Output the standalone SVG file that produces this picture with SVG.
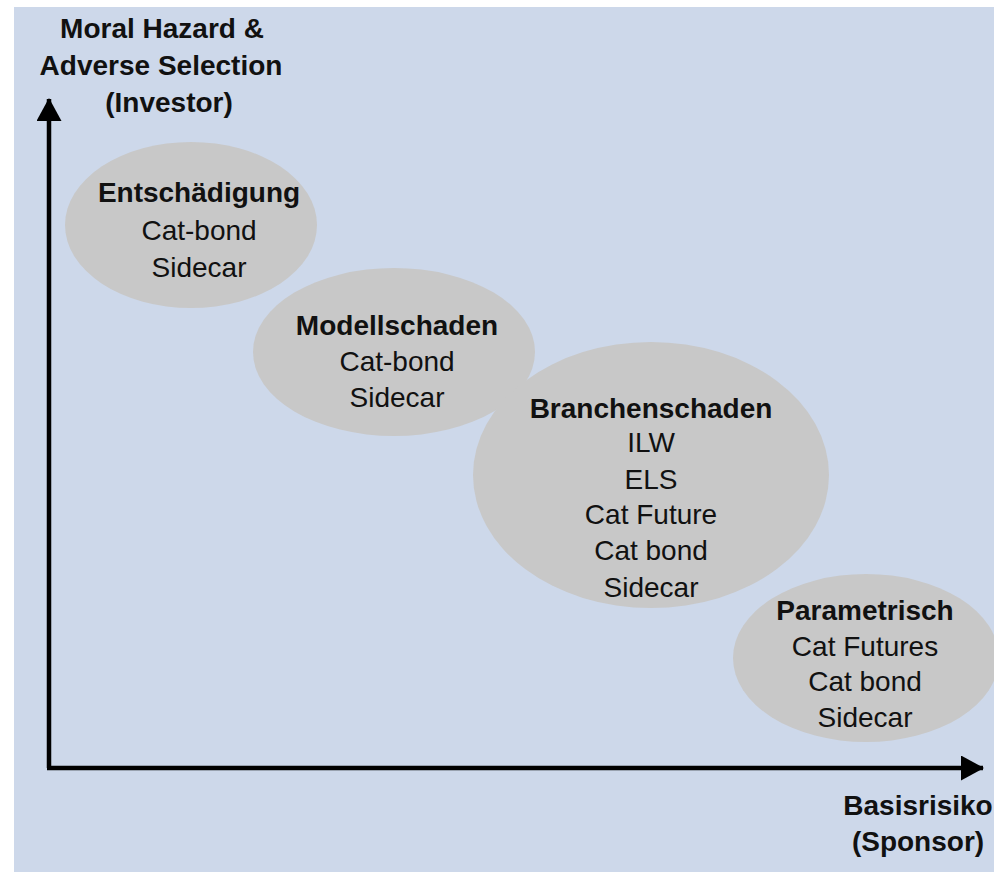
<svg xmlns="http://www.w3.org/2000/svg" width="994" height="872" viewBox="0 0 994 872">
  <defs>
    <marker id="arrow" markerUnits="userSpaceOnUse" markerWidth="24" markerHeight="26" refX="22" refY="12.5" orient="auto">
      <path d="M0,0 L23,12.5 L0,25 Z" fill="#000"/>
    </marker>
  </defs>
  <style>
    .bg { fill: #cdd8ea; }
    .node { fill: #c8c8c8; }
    text { font-family: "Liberation Sans", Arial, sans-serif; fill: #111; text-anchor: middle; }
    .t { font-size: 28px; font-weight: bold; }
    .i { font-size: 28px; }
    .ax { stroke: #000; stroke-width: 4.5; fill: none; }
  </style>
  <rect x="0" y="0" width="994" height="872" fill="#ffffff"/>
  <rect class="bg" x="14" y="7" width="980" height="865"/>

  <g id="connectors">
    <line class="ax" x1="49" y1="768" x2="49" y2="99" marker-end="url(#arrow)"/>
    <line class="ax" x1="47" y1="768" x2="983" y2="768" marker-end="url(#arrow)"/>
  </g>

  <g id="axis-y-label">
    <text class="t" x="162" y="38">Moral Hazard &amp;</text>
    <text class="t" x="161" y="75">Adverse Selection</text>
    <text class="t" x="169" y="112">(Investor)</text>
  </g>
  <g id="axis-x-label">
    <text class="t" x="918" y="815">Basisrisiko</text>
    <text class="t" x="918" y="851">(Sponsor)</text>
  </g>

  <g id="node-entschaedigung">
    <ellipse class="node" cx="191" cy="225" rx="126" ry="83"/>
    <text class="t" x="199" y="202">Entschädigung</text>
    <text class="i" x="199" y="240">Cat-bond</text>
    <text class="i" x="199" y="277">Sidecar</text>
  </g>

  <g id="node-modellschaden">
    <ellipse class="node" cx="394" cy="352" rx="141" ry="84"/>
    <text class="t" x="397" y="335">Modellschaden</text>
    <text class="i" x="397" y="371">Cat-bond</text>
    <text class="i" x="397" y="407">Sidecar</text>
  </g>

  <g id="node-branchenschaden">
    <ellipse class="node" cx="651" cy="475" rx="178" ry="133"/>
    <text class="t" x="651" y="418">Branchenschaden</text>
    <text class="i" x="651" y="452">ILW</text>
    <text class="i" x="651" y="489">ELS</text>
    <text class="i" x="651" y="524">Cat Future</text>
    <text class="i" x="651" y="560">Cat bond</text>
    <text class="i" x="651" y="597">Sidecar</text>
  </g>

  <g id="node-parametrisch">
    <ellipse class="node" cx="866" cy="658" rx="133" ry="84"/>
    <text class="t" x="865" y="620">Parametrisch</text>
    <text class="i" x="865" y="656">Cat Futures</text>
    <text class="i" x="865" y="691">Cat bond</text>
    <text class="i" x="865" y="727">Sidecar</text>
  </g>
</svg>
